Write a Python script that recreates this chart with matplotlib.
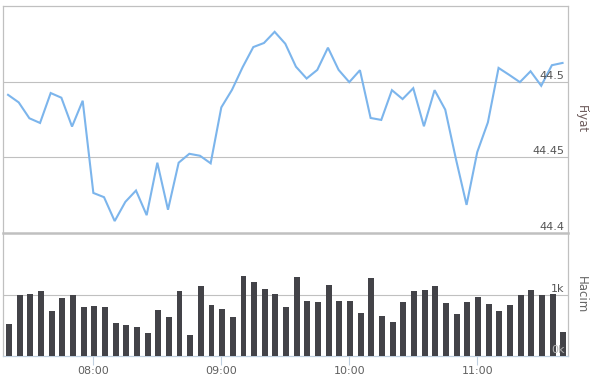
import matplotlib
matplotlib.use("Agg")
import matplotlib.pyplot as plt
import matplotlib.transforms as mtransforms
import numpy as np

# ---- data ----
start_minutes = 7 * 60 + 20  # 07:20
step_minutes = 5
price = [44.4914, 44.4864, 44.4759, 44.4728, 44.4926, 44.4895, 44.4704, 44.4875,
         44.4265, 44.4237, 44.4079, 44.4206, 44.4281, 44.4118, 44.4465, 44.4154,
         44.4465, 44.4524, 44.4511, 44.4461, 44.4831, 44.4947, 44.5097, 44.5230,
         44.5257, 44.5331, 44.5252, 44.5100, 44.5022, 44.5079, 44.5226, 44.5079,
         44.4998, 44.5077, 44.4761, 44.4748, 44.4945, 44.4886, 44.4958, 44.4706,
         44.4945, 44.4816, 44.4490, 44.4186, 44.4535, 44.4732, 44.5092, 44.5046,
         44.4998, 44.5070, 44.4974, 44.5110, 44.5125]
volume = [519, 995, 1011, 1060, 738, 945, 995, 798, 814, 798,
          536, 503, 470, 372, 749, 634, 1060, 339, 1142, 831,
          765, 634, 1306, 1197, 1093, 1011, 798, 1290, 902, 885,
          1158, 902, 902, 700, 1273, 650, 552, 885, 1049, 1077,
          1142, 869, 683, 885, 962, 847, 738, 831, 984, 1077,
          984, 1016, 388]
tick_hours = [8, 9, 10, 11]
tick_labels = ["08:00", "09:00", "10:00", "11:00"]
price_ticks = [44.4, 44.45, 44.5]
price_tick_labels = ["44.4", "44.45", "44.5"]
vol_ticks = [0, 1000]
vol_tick_labels = ["0k", "1k"]

x = start_minutes + step_minutes * np.arange(len(price))

W, H = 592, 378
fig = plt.figure(figsize=(W / 100, H / 100), dpi=100)

def frac(x0, y0, x1, y1):
    return [x0 / W, 1 - y1 / H, (x1 - x0) / W, (y1 - y0) / H]

ax2 = fig.add_axes(frac(2.5, 233, 568.3, 356))
ax1 = fig.add_axes(frac(2.5, 5.5, 568.3, 233))

xlim = (437.4, 702.7)
grid_c = "#c0c0c0"
label_c = "#555555"

# ---- price panel ----
ax1.plot(x, price, color="#7cb5ec", lw=1.5, zorder=3, solid_joinstyle="miter")
ax1.set_xlim(*xlim)
ax1.set_ylim(44.4, 44.5505)
ax1.set_xticks([])
ax1.set_yticks([])
for yv in price_ticks[1:]:
    ax1.axhline(yv, color=grid_c, lw=0.8, zorder=1)
for s in ["left", "top", "right"]:
    ax1.spines[s].set_color(grid_c)
    ax1.spines[s].set_linewidth(0.9)
ax1.spines["bottom"].set_color(grid_c)
ax1.spines["bottom"].set_linewidth(1.8)
tr1 = mtransforms.blended_transform_factory(ax1.transAxes, ax1.transData)
for yv, lab in zip(price_ticks, price_tick_labels):
    ax1.text(1 - 4 / 565.8, yv + 0.0008, lab, transform=tr1, ha="right", va="bottom",
             fontsize=8, color=label_c, zorder=4)
ax1.patch.set_alpha(0)

# ---- volume panel ----
ax2.bar(x + 0.4, volume, width=2.8, color="#434348", zorder=3)
ax2.set_xlim(*xlim)
ax2.set_ylim(0, 2000)
ax2.set_yticks([])
ax2.axhline(1000, color=grid_c, lw=0.8, zorder=1)
ax2.spines["top"].set_visible(False)
for s in ["left", "right"]:
    ax2.spines[s].set_color(grid_c)
    ax2.spines[s].set_linewidth(0.9)
ax2.spines["bottom"].set_color("#c0d0e0")
ax2.spines["bottom"].set_linewidth(0.9)
ax2.set_xticks([h * 60 for h in tick_hours])
ax2.set_xticklabels(tick_labels)
ax2.tick_params(axis="x", length=6.5, width=0.8, color="#c0d0e0",
                labelsize=8, labelcolor="#606060", pad=1)
tr2 = mtransforms.blended_transform_factory(ax2.transAxes, ax2.transData)
ax2.text(1 - 4 / 565.8, 1000 + 15, "1k", transform=tr2, ha="right", va="bottom",
         fontsize=8, color=label_c, zorder=4)
ax2.text(1 - 4 / 565.8, 15, "0k", transform=tr2, ha="right", va="bottom",
         fontsize=8, color="#b5b5b5", zorder=4)

# ---- axis titles ----
fig.text(581 / W, 1 - 119 / H, "Fiyat", rotation=-90, ha="center", va="center",
         fontsize=8.5, color="#6e5c5c")
fig.text(581 / W, 1 - 294.5 / H, "Hacim", rotation=-90, ha="center", va="center",
         fontsize=8.5, color="#666666")

fig.savefig("out.png", dpi=100)
